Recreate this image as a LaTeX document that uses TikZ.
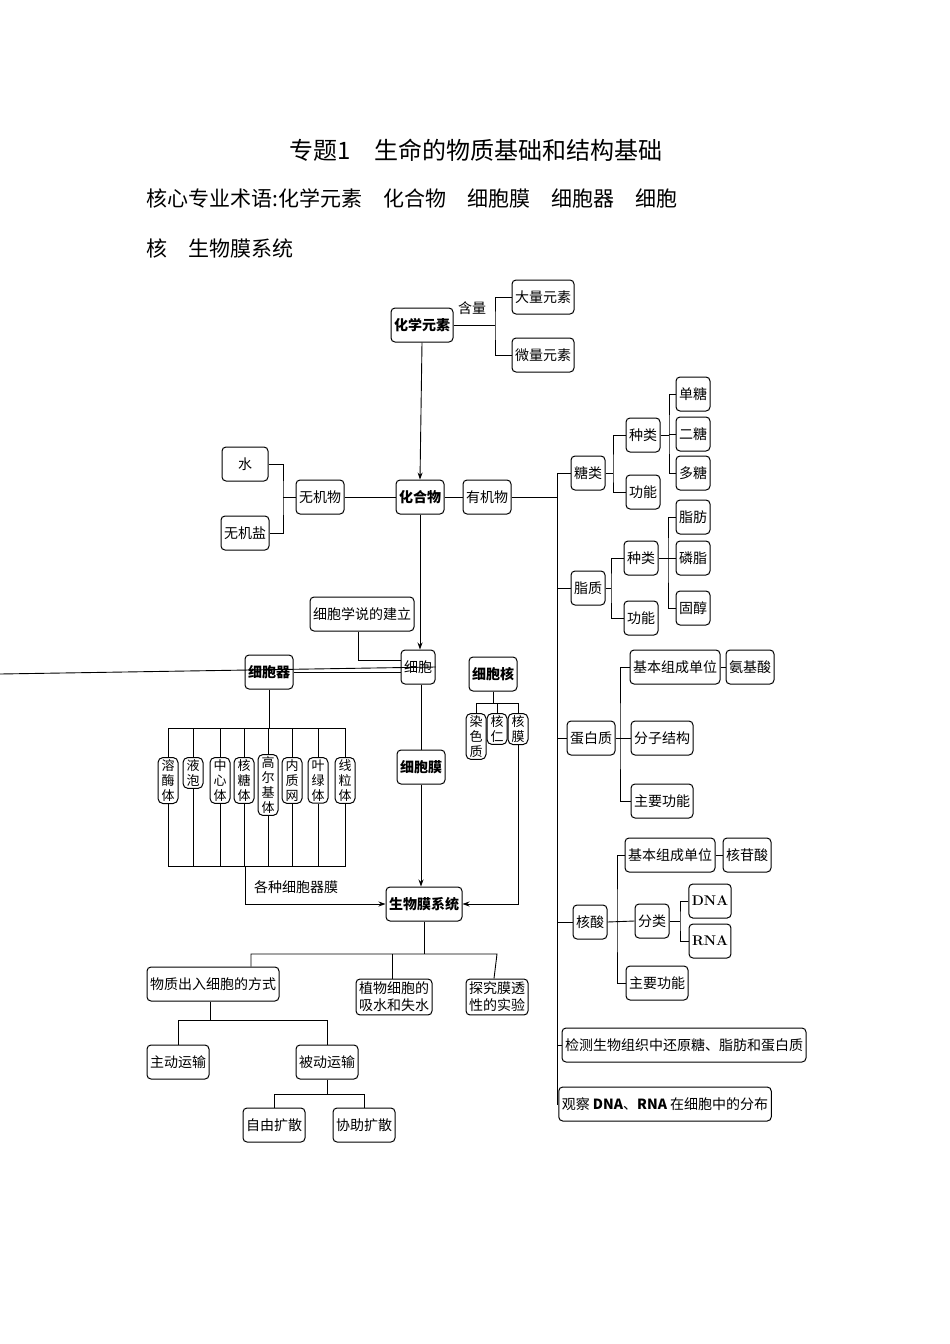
\documentclass[tikz,border=0pt]{standalone}
\usepackage{fontspec}
\newfontfamily\cjk{Noto Sans CJK SC}
\newfontfamily\cjkserif{Noto Sans CJK SC}[Scale=1]
\usetikzlibrary{arrows.meta}
\begin{document}
\begin{tikzpicture}[x=1pt,y=-1pt,
 box/.style={draw,rounded corners=4pt,line width=1pt,minimum height=34pt,inner sep=3pt,font=\cjk\fontsize{14}{16}\selectfont},
 bbox/.style={box,font=\cjk\bfseries\fontsize{14}{16}\selectfont},
 vbox/.style={draw,rounded corners=5pt,line width=1pt,minimum width=20pt,inner sep=2pt,align=center,anchor=north,font=\cjk\fontsize{13}{15}\selectfont},
 ln/.style={line width=0.9pt},
 ar/.style={ln,-{Stealth[length=7pt,width=5pt]}}]
\useasboundingbox (0,0) rectangle (950,1344);
\node[font=\cjk\fontsize{24}{28}\selectfont] (title) at (476,150) {专题1\quad 生命的物质基础和结构基础};
\node[anchor=west,font=\cjk\fontsize{21}{26}\selectfont] (l1) at (143,198) {核心专业术语:化学元素\quad 化合物\quad 细胞膜\quad 细胞器\quad 细胞};
\node[anchor=west,font=\cjk\fontsize{21}{26}\selectfont] (l2) at (143,248) {核\quad 生物膜系统};
% top
\node[bbox] (hx) at (422,325) {化学元素};
\node[box] (dl) at (543,297) {大量元素};
\node[box] (wl) at (543,355) {微量元素};
\node[font=\cjk\fontsize{14}{16}\selectfont] (hl) at (472,308) {含量};
\draw[ln] (hx.east) -- (495,325);
\draw[ln] (dl.west) -| (495,325) |- (wl.west);
\node[bbox] (hhw) at (420,497) {化合物};
\node[box] (yjw) at (487,497) {有机物};
\node[box] (wjw) at (320,497) {无机物};
\node[box,minimum width=46pt] (shui) at (245,464) {水};
\node[box] (wjy) at (245,533) {无机盐};
\draw[ar] (hx.south) -- (hhw.north);
\draw[ln] (wjw.east) -- (hhw.west);
\draw[ln] (hhw.east) -- (yjw.west);
\draw[ln] (wjw.west) -- (283,497);
\draw[ln] (shui.east) -| (283,497) |- (wjy.east);
% right trunk
\node[box] (tl) at (588,473) {糖类};
\node[box] (tz) at (643,435) {种类};
\node[box] (tg) at (643,492) {功能};
\node[box] (dt) at (693,394) {单糖};
\node[box] (et) at (693,434) {二糖};
\node[box] (duot) at (693,473) {多糖};
\node[box] (zz) at (588,588) {脂质};
\node[box] (zzl) at (641,558) {种类};
\node[box] (zg) at (641,618) {功能};
\node[box] (zf) at (693,517) {脂肪};
\node[box] (lz) at (693,558) {磷脂};
\node[box] (gc) at (693,608) {固醇};
\node[box] (dbz) at (591,738) {蛋白质};
\node[box] (jb1) at (675,667) {基本组成单位};
\node[box] (ajs) at (750,667) {氨基酸};
\node[box] (fz) at (662,738) {分子结构};
\node[box] (zy1) at (662,801) {主要功能};
\node[box] (hs) at (590,922) {核酸};
\node[box] (jb2) at (670,855) {基本组成单位};
\node[box] (hgs) at (747,855) {核苷酸};
\node[box] (fl) at (652,921) {分类};
\node[box,font=\bfseries\fontsize{14}{16}\selectfont] (dna) at (710,901) {DNA};
\node[box,font=\bfseries\fontsize{14}{16}\selectfont] (rna) at (710,941) {RNA};
\node[box] (zy2) at (657,983) {主要功能};
\node[box] (jc) at (684,1045) {检测生物组织中还原糖、脂肪和蛋白质};
\node[box] (gc2) at (665,1104) {观察 \textbf{DNA}、\textbf{RNA} 在细胞中的分布};
\draw[ln] (yjw.east) -- (557,497);
\draw[ln] (tl.west) -| (557,1104) -- (gc2.west);
\foreach \n in {zz,dbz,hs,jc} \draw[ln] (\n.west) -- (\n.west -| 557,0);
\draw[ln] (tl.east) -- (613,473); \draw[ln] (tz.west) -| (613,473) |- (tg.west);
\draw[ln] (tz.east) -- (669,435); \draw[ln] (dt.west) -| (669,435) |- (duot.west); \draw[ln] (et.west) -- (669,434);
\draw[ln] (zz.east) -- (611,588); \draw[ln] (zzl.west) -| (611,588) |- (zg.west);
\draw[ln] (zzl.east) -- (668,558); \draw[ln] (zf.west) -| (668,558) |- (gc.west); \draw[ln] (lz.west) -- (668,558);
\draw[ln] (dbz.east) -- (fz.west); \draw[ln] (jb1.west) -| (620,738) |- (zy1.west);
\draw[ln] (jb1.east) -- (ajs.west);
\draw[ln] (hs.east) -- (fl.west); \draw[ln] (jb2.west) -| (617,922) |- (zy2.west);
\draw[ln] (jb2.east) -- (hgs.west);
\draw[ln] (fl.east) -- (680,921); \draw[ln] (dna.west) -| (680,921) |- (rna.west);
% cell
\node[box] (xsx) at (362,614) {细胞学说的建立};
\node[box] (xb) at (418,667) {细胞};
\node[bbox] (xbq) at (269,672) {细胞器};
\node[bbox] (xbh) at (493,674) {细胞核};
\node[bbox] (xbm) at (421,767) {细胞膜};
\node[bbox] (swm) at (424,904) {生物膜系统};
\draw[ar] (hhw.south) -- (hhw.south |- xb.north);
\draw[ln] (xsx.south -| 358,0) |- (xb.west |- 0,660);
\draw[ln] (xbq.east) -- (xb.west |- xbq.east);
\draw[ln] (xb.east) -- (xbh.west -| 0,0) ;
\draw[ln] (xb.south -| xbm.north) -- (xbm.north);
\draw[ar] (xbm.south) -- (xbm.south |- swm.north);
\node[vbox] (rs) at (476,713) {染\\色\\质};
\node[vbox] (hr) at (497,713) {核\\仁};
\node[vbox] (hm) at (518,713) {核\\膜};
\draw[ln] (xbh.south) -- (493,703);
\draw[ln] (rs.north) |- (hm.north |- 0,703) -- (hm.north);
\draw[ln] (hr.north) -- (497,703);
\draw[ar] (hm.south) |- (swm.east);
% organelles
\node[vbox] (o1) at (168,757) {溶\\酶\\体};
\node[vbox] (o2) at (193,757) {液\\泡};
\node[vbox] (o3) at (220,757) {中\\心\\体};
\node[vbox] (o4) at (244,757) {核\\糖\\体};
\node[vbox] (o5) at (268,754) {高\\尔\\基\\体};
\node[vbox] (o6) at (292,757) {内\\质\\网};
\node[vbox] (o7) at (318,757) {叶\\绿\\体};
\node[vbox] (o8) at (345,757) {线\\粒\\体};
\draw[ln] (xbq.south) -- (269,728);
\draw[ln] (o1.north) |- (o8.north |- 0,728) -- (o8.north);
\draw[ln] (o1.south) |- (o8.south |- 0,866) -- (o8.south);
\foreach \n in {o2,o3,o4,o5,o6,o7} {\draw[ln] (\n.north) -- (\n.north |- 0,728); \draw[ln] (\n.south) -- (\n.south |- 0,866);}
\node[font=\cjk\fontsize{14}{16}\selectfont] (gz) at (296,887) {各种细胞器膜};
\draw[ar] (245,866) |- (swm.west);
% bottom
\node[box] (wz) at (213,984) {物质出入细胞的方式};
\node[box,align=center,font=\cjk\fontsize{14}{17}\selectfont] (zw) at (394,997) {植物细胞的\\吸水和失水};
\node[box,align=center,font=\cjk\fontsize{14}{17}\selectfont] (tj) at (497,997) {探究膜透\\性的实验};
\draw[ln] (swm.south) -- (424,954);
\draw[ln] (wz.north -| 251,0) |- (tj.north |- 0,954) -- (tj.north -| 494,0);
\draw[ln] (392,954) -- (zw.north -| 392,0);
\node[box] (zd) at (178,1062) {主动运输};
\node[box] (bd) at (327,1062) {被动运输};
\node[box] (zy) at (274,1125) {自由扩散};
\node[box] (xz) at (364,1125) {协助扩散};
\draw[ln] (wz.south -| 210,0) -- (210,1020);
\draw[ln] (zd.north) |- (bd.north |- 0,1020) -- (bd.north);
\draw[ln] (bd.south) -- (bd.south |- 0,1094);
\draw[ln] (zy.north) |- (xz.north |- 0,1094) -- (xz.north);
\end{tikzpicture}
\end{document}
